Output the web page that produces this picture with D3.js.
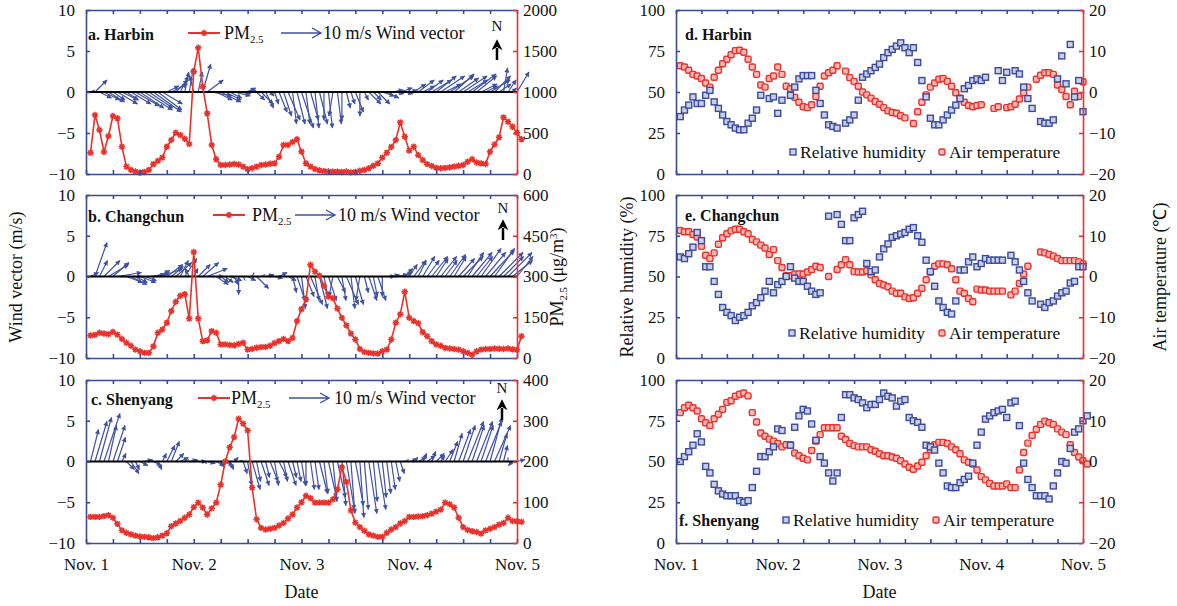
<!DOCTYPE html>
<html>
<head>
<meta charset="utf-8">
<script src="https://cdn.jsdelivr.net/npm/d3@7"></script>
<style>
  body { margin: 0; background: #fff; }
  svg text { font-family: "Liberation Serif", "Times New Roman", serif; fill: #111; }
</style>
</head>
<body>
<svg id="chart" width="1177" height="606"></svg>
<script>
// hours after Nov. 1 00:00, one value per hour
const hours = d3.range(1, 98);
const dayTicks = [0, 24, 48, 72, 96];
const dayLabels = ["Nov. 1", "Nov. 2", "Nov. 3", "Nov. 4", "Nov. 5"];
const windTicks = [-10, -5, 0, 5, 10];
const pmTicksHarbin = [0, 500, 1000, 1500, 2000];
const pmTicksChangchun = [0, 150, 300, 450, 600];
const pmTicksShenyang = [0, 100, 200, 300, 400];
const rhTicks = [0, 25, 50, 75, 100];
const tTicks = [-20, -10, 0, 10, 20];

const pmHarbin = [260,720,537,268,463,707,679,333,90,50,
  30,16,25,50,120,160,200,333,415,504,
  476,430,366,1248,1540,1065,740,354,179,110,
  110,115,122,115,90,60,70,90,110,115,
  125,130,211,354,354,390,423,272,130,90,
  60,45,35,30,28,28,25,30,20,25,
  40,50,70,100,130,200,260,330,415,630,
  455,285,333,230,170,120,98,75,70,75,
  80,90,100,110,150,180,140,130,122,272,
  360,447,691,638,577,504,423];
const pmChangchun = [83,85,93,90,88,96,86,70,56,45,
  31,25,19,19,43,93,105,130,173,207,
  229,235,145,390,145,62,65,99,93,50,
  50,48,47,52,56,31,33,38,40,41,
  45,55,62,70,62,74,136,180,216,343,
  318,303,266,226,220,182,148,120,90,68,
  33,22,19,17,16,25,31,68,130,161,
  244,148,136,128,95,80,62,50,45,37,
  35,33,31,25,19,12,25,31,33,33,
  35,34,33,35,32,30,80];
const pmShenyang = [64,64,64,66,68,62,47,31,25,21,
  18,16,15,14,12,14,18,24,41,48,
  54,62,70,88,99,87,70,85,99,143,
  200,235,260,305,293,276,136,58,37,33,
  35,37,43,49,60,70,87,100,116,110,
  99,99,99,99,107,132,186,150,80,50,
  39,30,21,18,15,15,25,33,39,48,
  54,64,64,65,66,68,72,77,82,99,
  95,87,62,39,32,29,27,23,31,35,
  39,45,49,62,54,53,52];

// wind components (m/s), u eastward, v northward
const uHarbin = [1,3,3,4,4,3,5,4,3,5, 6,6,7,6,7,6,5,3,4,3,
  2,1,1,-1,1,2,4,5,4,5, 4,3,4,3,3,2,1,2,3,2,
  1,1,2,2,3,1,2,3,1,2, 1,2,0,1,-1,1,0,1,1,2,
  0,1,3,2,3,3,3,3,2,3, 2,2,3,4,3,4,5,5,6,4,
  6,5,5,6,5,6,5,4,3,5, 4,3,1,2,1,3,null];
const vHarbin = [0.5,3,-1.5,-2,-2.5,-2,-3,-2,-2,-3, -3.5,-4,-4.5,-4,-5,-4.5,-3,1.5,2,3,
  4,5,6,4,5,7,3,-1,-2,-2.5, -2,-1.5,-1,-0.5,0.5,1,0.5,-2,-3,-4,
  -1,-3,-5,-6,-7,-8,-8,-9,-8,-7, -9,-8,-7,-9,-6,-8,-7,-4,-3,-5,
  -6,-2,-3,-2,-3,-1,-1.5,0.5,-0.5,1, -0.5,0.5,2,3,1.5,3,3,4,4,2,
  4,4.5,3.5,4,3,4.5,4,2,1.5,3, 4,2,6,3,1,5,null];
const uChangchun = [2,3,2,4,5,4,6,5,4,4, 3,4,3,4,4,3,5,4,3,4,
  2,3,-1,1,3,4,5,3,3,2, 2,3,1,0,0.5,2,0.5,3,1,2,
  1,2,2,1,2,1,2,1,2,3, 1,2,1,2,-1,2,1,3,1,2,
  -1,1,2,1,2,0,2,2,3,3, 2,2,3,2,3,3,4,3,4,3,
  4,3,4,5,4,5,4,5,5,6, 5,6,5,6,5,4,null];
const vChangchun = [1,8.5,4,4,3,3.5,1,0,-1.5,-2, -1.5,-1.5,-1,0.5,1,1.5,2,3,2.5,3.5,
  4,4.5,2,2,3,3.5,2,0,-2,-1.5, -1.5,-1,-2,-4.5,-1,-1,1,-3,0.5,0.5,
  0.5,-0.5,1,0,-1,-4,-6,-8,-5,-7, -6,-8,-5,-6,-5,-4,-6,-7,-8,-7,
  -6,-4,-6,-5,-6,-5,0,0.5,0.5,1, 2,3,4,4,5,4,5,4.5,5,4,
  5.5,5,4.5,5,6,6,5,7,6,6.5, 7,6,5,6,4,5,null];
const uShenyang = [2,3,3,4,2,3,2,1,2,2, 1,2,2,1,2,1,1,2,2,2,
  2,1,2,1,2,1,2,1,2,1, 2,1,1,1,1,1,2,1,2,1,
  2,1,2,1,2,1,1,1,0,1, 1,2,1,2,1,2,1,2,1,2,
  1,1,2,1,2,1,1,1,1,1, 1,2,1,2,1,2,1,2,1,2,
  2,2,3,3,4,3,4,3,4,3, 4,2,1,0,-1,2,null];
const vShenyang = [8,10,11,12,9,9,6,2,-2,-3, -2,-1,0.5,0.3,-1,-2,2,4,5,2,
  1,0.5,0.5,0.3,0,-0.5,-0.5,0,-1,-1.5, -1,-2,1,0.3,-3,-6,-7,-5,-6,-4,
  -5,-6,-4,-5,-6,-4,-5,-6,-6,-7, -7,-8,-8,-9,-10,-9,-11,-12,-13,-11,
  -14,-12,-13,-10,-12,-9,-8,-7,-5,-3, 0.5,0.5,1,1,2,1.5,2.5,2,1.5,3,
  5,7,8,9,10,9,10,9,10,11, 9,7,4,1,-1,0.5,null];

// relative humidity (%) and air temperature (deg C)
const rhHarbin = [35,39,42,47,43,43,48,51,44,40, 36,32,30,28,27,27,31,34,39,48,
  null,46,47,37,45,null,48,53,58,60, 60,60,51,43,36,30,29,28,null,31,
  33,36,45,59,61,63,65,67,71,74, 76,78,80,77,74,77,68,57,47,34,
  30,30,33,36,39,42,46,52,54,57, 58,57,59,null,null,63,57,62,null,63,
  61,53,46,40,null,32,31,31,33,58, 72,55,79,47,57,38,null];
const tHarbin = [6.4,6.1,5.3,4.3,3.9,3.3,2.2,1.2,3.6,5.3, 6.9,8.0,9.1,10.1,10.2,9.7,8.0,6.1,4.3,1.7,
  1.2,3.3,3.9,6.1,4.3,1.4,0.8,-1.3,-2.5,-3.6, -3.8,-3.1,-1.1,1.4,3.9,4.7,5.3,6.4,null,5.1,
  3.5,2.6,1.4,0,-0.7,-1.5,-2.3,-3.0,-3.8,-4.6, -5.0,-5.2,-5.8,-6.3,null,-7.7,-4.8,-2.5,-0.7,1.2,
  2.2,3.1,3.3,2.6,1.4,-0.2,-1.5,-2.5,-3.3,-3.6, -3.3,-3.1,null,null,-4.0,-3.6,null,-3.8,-3.6,-3.0,
  -1.7,-0.2,1.2,null,3.1,4.1,4.7,4.7,4.3,1.7, 0.6,-1.1,-3.1,0.2,-1.1,2.5,null];
const rhChangchun = [62,61,64,68,77,72,56,56,47,39, 31,28,26,23,25,26,28,32,34,37,
  41,47,40,45,47,50,56,49,47,47, 44,41,39,40,null,87,null,88,82,72,
  72,86,88,90,58,53,54,62,67,70, 74,75,76,77,79,80,75,71,60,53,
  44,35,31,28,27,35,54,54,59,62, 56,58,61,60,60,60,60,null,63,59,
  54,47,40,35,null,33,31,34,35,38, 40,41,46,47,56,56,null];
const tChangchun = [11.3,11,11,10.3,9.7,7.4,5.2,4.4,5.8,7.9, 9.5,10.5,11.2,11.6,11.6,11,10.5,9.1,8.5,7.7,
  7,5.4,6.6,3.9,2.2,0.2,0.2,0.6,0.6,0.6, 1.1,1.7,2.5,2.2,null,0,null,1.7,2.9,4.1,
  2.9,1.2,1.1,1.1,1.4,0.4,-0.8,-1.7,-2.1,-2.5, -3.6,-4.1,-4.1,-5,-5.4,-5.2,-4.1,-2.9,-0.8,1.1,
  2.5,3.1,3.1,2.9,1.9,-0.8,-3.6,-4.1,-5.4,-6.2, -3.1,-3.3,-3.3,-3.6,-3.6,-3.6,-3.6,null,-4.5,-3.6,
  -1.7,0.6,2.5,null,null,6,5.8,5.4,5,4.4, 3.9,3.9,3.9,3.9,3.6,3.1,null];
const rhShenyang = [50,53,56,60,67,62,47,43,36,32, 30,29,29,29,26,25,26,34,44,53,
  53,56,59,70,69,null,60,71,78,82, 81,73,63,53,49,43,38,43,77,91,
  91,89,88,86,83,85,85,88,92,90, 89,84,87,88,77,75,74,71,60,59,
  57,49,43,35,34,34,37,39,41,49, 60,68,76,78,80,81,82,77,86,87,
  72,49,39,34,29,29,29,27,35,43, 50,49,58,68,70,75,78];
const tShenyang = [12,13.2,13.8,13.2,12.4,10.5,9.5,8.8,10.5,11.6, 12.8,14.5,14.9,16,16.5,16.8,16.1,12,9.7,7,
  6.2,5.5,5,4.4,3.6,4.1,4.1,2.1,1.4,0.8, 0.4,2.7,5,6.6,8.3,8.3,8.3,8.3,6.2,5.4,
  4.4,3.9,3.6,3.6,3.6,2.9,2.5,1.9,1.4,1.4, 1.1,0.8,0.2,-0.6,-1.4,-1.9,-1.1,-0.2,1.4,2.9,
  4.1,4.7,4.7,4.4,3.6,2.9,1.9,0.4,-0.2,-0.6, -2.1,-3.7,-4.5,-5.4,-6,-6,-6,-5.5,-6.4,-6.4,
  -2.1,2.2,4.5,6.4,7.9,9.1,9.9,9.5,9.1,8, 7.2,6.6,4.1,2.2,1.1,0.2,-0.6];

const BLUE = "#3b4b9c", RED = "#e8322c", VEC = "#3f51a3";
const svg = d3.select("#chart");
const rows = [[10, 174], [195, 358], [380, 543]];
const xL = d3.scaleLinear().domain([0, 96]).range([86, 517]);
const xR = d3.scaleLinear().domain([0, 96]).range([676, 1083]);
const K = 4; // px per m/s for wind vectors (10 m/s legend arrow = 40 px)

const defs = svg.append("defs");
defs.append("marker").attr("id", "head")
  .attr("viewBox", "0 0 10 10").attr("refX", 9).attr("refY", 5)
  .attr("markerWidth", 6).attr("markerHeight", 5)
  .attr("markerUnits", "userSpaceOnUse").attr("orient", "auto")
  .append("path").attr("d", "M0,0L10,5L0,10z").attr("fill", VEC);
defs.append("marker").attr("id", "nhead")
  .attr("viewBox", "0 0 10 10").attr("refX", 2).attr("refY", 5)
  .attr("markerWidth", 11).attr("markerHeight", 11)
  .attr("markerUnits", "userSpaceOnUse").attr("orient", "auto")
  .append("path").attr("d", "M0,0L10,5L0,10L3,5z").attr("fill", "#000");

const star = "M-3.2,0H3.2M0,-3.2V3.2M-2.3,-2.3L2.3,2.3M-2.3,2.3L2.3,-2.3";

function styleAxis(g) {
  g.attr("font-family", null).attr("font-size", null);
  g.selectAll("text").attr("font-size", 17).style("fill", "#111");
}

// draws the box with blue left/top/bottom and red right side
function frame(g, x, y0, y1, yLeft, leftTicks, leftFmt, yRight, rightTicks, showDates) {
  const [xa, xb] = x.range();
  g.append("g").attr("transform", `translate(0,${y0})`)
    .call(d3.axisTop(x).tickValues(d3.range(0, 97, 6)).tickSize(-4).tickSizeOuter(0).tickFormat(""))
    .call(a => a.selectAll("line,path").attr("stroke", BLUE).attr("stroke-width", 1.6));
  g.append("g").attr("transform", `translate(0,${y1})`)
    .call(d3.axisBottom(x).tickValues(d3.range(0, 97, 6)).tickSize(-4).tickSizeOuter(0).tickFormat(""))
    .call(a => a.selectAll("line,path").attr("stroke", BLUE).attr("stroke-width", 1.6));
  g.append("g").attr("transform", `translate(${xa},0)`)
    .call(d3.axisLeft(yLeft).tickValues(leftTicks).tickSize(-4).tickSizeOuter(0).tickPadding(11).tickFormat(leftFmt))
    .call(a => a.selectAll("line,path").attr("stroke", BLUE).attr("stroke-width", 1.6))
    .call(styleAxis);
  g.append("g").attr("transform", `translate(${xb},0)`)
    .call(d3.axisRight(yRight).tickValues(rightTicks).tickSize(-4).tickSizeOuter(0).tickPadding(6).tickFormat(d3.format("d")))
    .call(a => a.selectAll("line,path").attr("stroke", RED).attr("stroke-width", 1.6))
    .call(styleAxis);
  if (showDates) {
    g.append("g").attr("transform", `translate(0,${y1})`)
      .call(d3.axisBottom(x).tickValues(dayTicks).tickSize(0).tickPadding(15)
        .tickFormat((d, i) => dayLabels[i]))
      .call(a => a.select(".domain").remove())
      .call(styleAxis);
  }
}

function pmLabel(sel, size) {
  sel.append("tspan").text("PM");
  sel.append("tspan").text("2.5").attr("font-size", size * 0.6).attr("dy", 4);
}

// ---- wind / PM2.5 panels ----
const windPanels = [
  { title: "a. Harbin", pm: pmHarbin, u: uHarbin, v: vHarbin, ticks: pmTicksHarbin,
    tx: 88, ty: 40, ly: 33, pmX: 188, pmTX: 224, arX: 281, arTX: 323, nX: 497, nY: 31, nA: [60, 43] },
  { title: "b. Changchun", pm: pmChangchun, u: uChangchun, v: vChangchun, ticks: pmTicksChangchun,
    tx: 88, ty: 222, ly: 215, pmX: 213, pmTX: 252, arX: 295, arTX: 338, nX: 503, nY: 213, nA: [240, 223] },
  { title: "c. Shenyang", pm: pmShenyang, u: uShenyang, v: vShenyang, ticks: pmTicksShenyang,
    tx: 91, ty: 405, ly: 398, pmX: 198, pmTX: 231, arX: 289, arTX: 334, nX: 502, nY: 393, nA: [420, 403] }
];

windPanels.forEach((p, i) => {
  const [y0, y1] = rows[i];
  const g = svg.append("g");
  const yW = d3.scaleLinear().domain([-10, 10]).range([y1, y0]);
  const yP = d3.scaleLinear().domain([0, d3.max(p.ticks)]).range([y1, y0]);
  const [xa, xb] = xL.range();

  // wind vectors
  const vec = hours.map((h, j) => ({ h, u: p.u[j], v: p.v[j] })).filter(d => d.u != null);
  g.append("g").selectAll("line").data(vec).join("line")
    .attr("x1", d => xL(d.h)).attr("y1", yW(0))
    .attr("x2", d => xL(d.h) + d.u * K).attr("y2", d => yW(0) - d.v * K)
    .attr("stroke", VEC).attr("stroke-width", 1.2)
    .attr("marker-end", d => Math.hypot(d.u, d.v) > 1.2 ? "url(#head)" : null);

  // zero line
  g.append("line").attr("x1", xa).attr("x2", xb).attr("y1", yW(0)).attr("y2", yW(0))
    .attr("stroke", "#000").attr("stroke-width", 2);

  // PM2.5 line + markers
  const pts = hours.map((h, j) => ({ h, v: p.pm[j] }));
  g.append("path").datum(pts)
    .attr("d", d3.line().defined(d => d.v != null).x(d => xL(d.h)).y(d => yP(d.v)))
    .attr("fill", "none").attr("stroke", RED).attr("stroke-width", 1.6);
  g.append("g").selectAll("path").data(pts.filter(d => d.v != null)).join("path")
    .attr("transform", d => `translate(${xL(d.h)},${yP(d.v)})`)
    .attr("d", star).attr("stroke", RED).attr("stroke-width", 1.5).attr("fill", "none");

  frame(g, xL, y0, y1, yW, windTicks, d3.format("d"), yP, p.ticks, i === 2);

  // title and legend
  g.append("text").attr("x", p.tx).attr("y", p.ty).attr("font-size", 16)
    .attr("font-weight", "bold").text(p.title);
  g.append("line").attr("x1", p.pmX).attr("x2", p.pmX + 32).attr("y1", p.ly).attr("y2", p.ly)
    .attr("stroke", RED).attr("stroke-width", 2);
  g.append("path").attr("transform", `translate(${p.pmX + 16},${p.ly})`)
    .attr("d", star).attr("stroke", RED).attr("stroke-width", 1.5);
  g.append("text").attr("x", p.pmTX).attr("y", p.ly + 6).attr("font-size", 18).call(pmLabel, 18);
  const ax = p.arX, ax2 = p.arX + 10 * K;
  g.append("path")
    .attr("d", `M${ax},${p.ly}H${ax2}M${ax2 - 9},${p.ly - 5}L${ax2},${p.ly}L${ax2 - 9},${p.ly + 5}`)
    .attr("fill", "none").attr("stroke", VEC).attr("stroke-width", 1.4);
  g.append("text").attr("x", p.arTX).attr("y", p.ly + 6).attr("font-size", 18).text("10 m/s Wind vector");
  g.append("text").attr("x", p.nX).attr("y", p.nY).attr("font-size", 15)
    .attr("text-anchor", "middle").text("N");
  g.append("line").attr("x1", p.nX).attr("x2", p.nX).attr("y1", p.nA[0]).attr("y2", p.nA[1] + 5)
    .attr("stroke", "#000").attr("stroke-width", 2.5).attr("marker-end", "url(#nhead)");
});

// ---- humidity / temperature panels ----
const metPanels = [
  { title: "d. Harbin", rh: rhHarbin, t: tHarbin, tx: 685, ty: 40, ly: 152, bX: 793, bTX: 800, rX: 942, rTX: 949 },
  { title: "e. Changchun", rh: rhChangchun, t: tChangchun, tx: 685, ty: 221, ly: 333, bX: 792, bTX: 799, rX: 942, rTX: 949 },
  { title: "f. Shenyang", rh: rhShenyang, t: tShenyang, tx: 679, ty: 526, ly: 520, bX: 786, bTX: 793, rX: 936, rTX: 943 }
];

function sq(sel, kind) {
  sel.attr("width", 6).attr("height", 6).attr("stroke-width", 1.4)
    .attr("stroke", kind === "rh" ? BLUE : RED)
    .attr("fill", kind === "rh" ? "#c9cfe9" : "#f7b8b4")
    .attr("rx", kind === "rh" ? 0 : 1.5);
}

metPanels.forEach((p, i) => {
  const [y0, y1] = rows[i];
  const g = svg.append("g");
  const yH = d3.scaleLinear().domain([0, 100]).range([y1, y0]);
  const yT = d3.scaleLinear().domain([-20, 20]).range([y1, y0]);

  const rh = hours.map((h, j) => ({ h, v: p.rh[j] })).filter(d => d.v != null);
  const tt = hours.map((h, j) => ({ h, v: p.t[j] })).filter(d => d.v != null);
  g.append("g").selectAll("rect").data(tt).join("rect")
    .attr("x", d => xR(d.h) - 3).attr("y", d => yT(d.v) - 3).call(sq, "t");
  g.append("g").selectAll("rect").data(rh).join("rect")
    .attr("x", d => xR(d.h) - 3).attr("y", d => yH(d.v) - 3).call(sq, "rh");

  frame(g, xR, y0, y1, yH, rhTicks, d3.format("d"), yT, tTicks, i === 2);

  g.append("text").attr("x", p.tx).attr("y", p.ty).attr("font-size", 16)
    .attr("font-weight", "bold").text(p.title);
  g.append("rect").attr("x", p.bX - 3).attr("y", p.ly - 3).call(sq, "rh");
  g.append("text").attr("x", p.bTX).attr("y", p.ly + 6).attr("font-size", 17.5).text("Relative humidity");
  g.append("rect").attr("x", p.rX - 3).attr("y", p.ly - 3).call(sq, "t");
  g.append("text").attr("x", p.rTX).attr("y", p.ly + 6).attr("font-size", 17.5).text("Air temperature");
});

// ---- axis titles ----
svg.append("text").attr("transform", "translate(22,277) rotate(-90)")
  .attr("text-anchor", "middle").attr("font-size", 18).text("Wind vector  (m/s)");
const pmT = svg.append("text").attr("transform", "translate(563,277) rotate(-90)")
  .attr("text-anchor", "middle").attr("font-size", 18);
pmLabel(pmT, 18);
pmT.append("tspan").text("  (\u03bcg/m").attr("dy", -4);
pmT.append("tspan").text("3").attr("font-size", 11).attr("dy", -6);
pmT.append("tspan").text(")").attr("dy", 6);
svg.append("text").attr("transform", "translate(633,277) rotate(-90)")
  .attr("text-anchor", "middle").attr("font-size", 18).text("Relative humidity (%)");
svg.append("text").attr("transform", "translate(1166,277) rotate(-90)")
  .attr("text-anchor", "middle").attr("font-size", 18).text("Air temperature (\u2103)");
svg.append("text").attr("x", (xL.range()[0] + xL.range()[1]) / 2).attr("y", 598)
  .attr("text-anchor", "middle").attr("font-size", 18).text("Date");
svg.append("text").attr("x", (xR.range()[0] + xR.range()[1]) / 2).attr("y", 598)
  .attr("text-anchor", "middle").attr("font-size", 18).text("Date");
</script>
</body>
</html>
